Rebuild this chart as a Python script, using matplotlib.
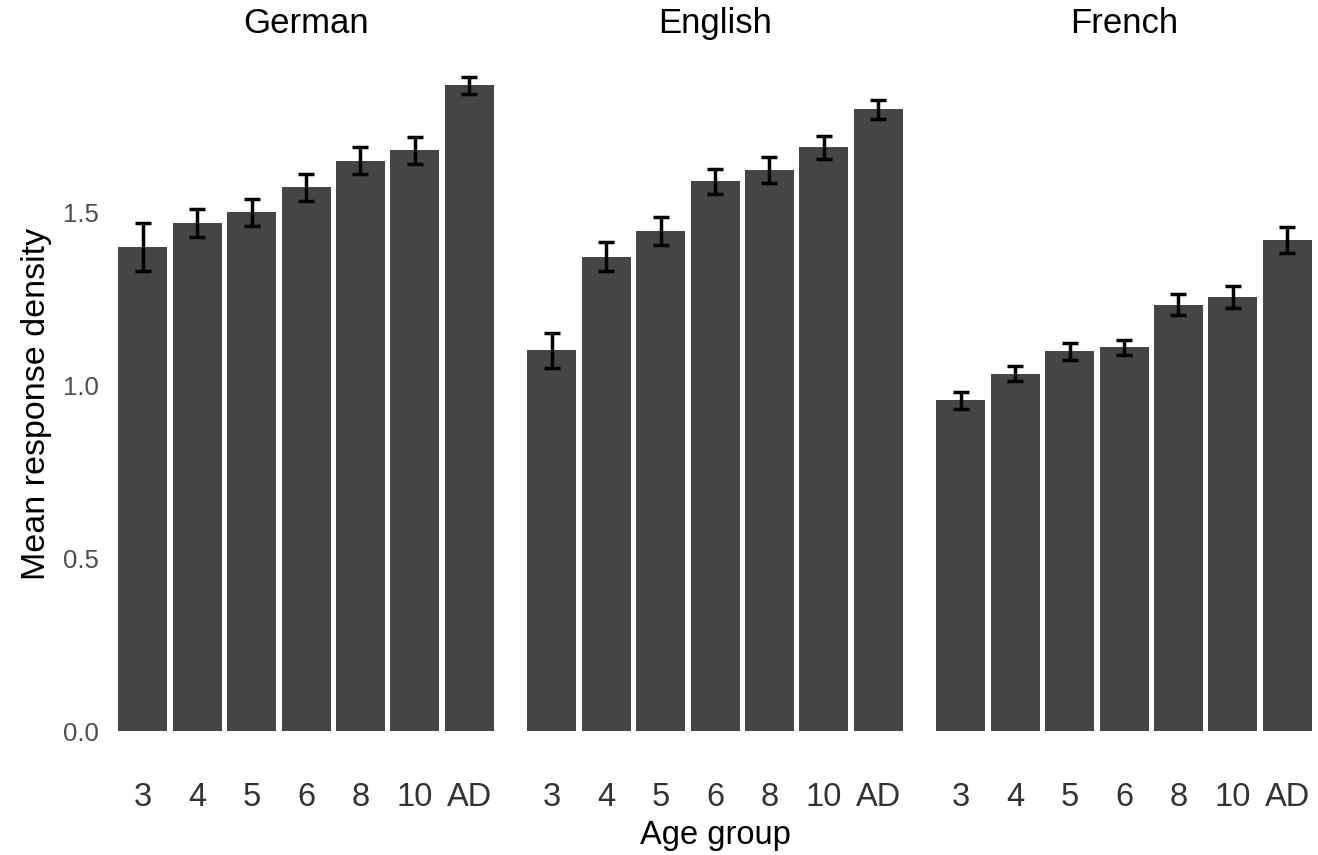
import numpy as np
import matplotlib
matplotlib.use("Agg")
import matplotlib.pyplot as plt

plt.rcParams['font.family'] = ['Liberation Sans', 'DejaVu Sans']

age_groups = ['3', '4', '5', '6', '8', '10', 'AD']
languages = ['German', 'English', 'French']

german_mean = [1.40, 1.47, 1.50, 1.572, 1.649, 1.679, 1.867]
german_err = [0.069, 0.040, 0.040, 0.039, 0.039, 0.040, 0.025]
english_mean = [1.101, 1.371, 1.446, 1.590, 1.623, 1.688, 1.798]
english_err = [0.050, 0.042, 0.040, 0.036, 0.038, 0.033, 0.028]
french_mean = [0.957, 1.034, 1.098, 1.110, 1.233, 1.255, 1.421]
french_err = [0.025, 0.022, 0.025, 0.022, 0.030, 0.031, 0.038]

means = [german_mean, english_mean, french_mean]
errs = [german_err, english_err, french_err]

W, H = 1318, 855
fig = plt.figure(figsize=(W / 100, H / 100), dpi=100)

panel_w = 392
gap = 17
left0 = 110
bottom, top = 764, 44

ymax = max(m + e for ms, es in zip(means, errs) for m, e in zip(ms, es))
ylim = (-0.05 * ymax, ymax * 1.05)

x = np.arange(len(age_groups))
for i, lang in enumerate(languages):
    l = left0 + i * (panel_w + gap)
    ax = fig.add_axes([l / W, (H - bottom) / H, panel_w / W, (bottom - top) / H])
    ax.bar(x, means[i], width=0.9, color='#454545', zorder=2)
    ax.errorbar(x, means[i], yerr=errs[i], fmt='none', ecolor='black',
                elinewidth=2.5, capsize=5.5, capthick=2.5, zorder=3)
    ax.set_xlim(-0.6, len(age_groups) - 0.4)
    ax.set_ylim(*ylim)
    ax.set_xticks(x)
    ax.set_xticklabels(age_groups, fontsize=23.5, color='#333333')
    ax.set_yticks([0.0, 0.5, 1.0, 1.5])
    if i == 0:
        ax.set_yticklabels(['0.0', '0.5', '1.0', '1.5'], fontsize=18.5, color='#4d4d4d')
        ax.set_ylabel('Mean response density', fontsize=24.5, labelpad=8)
    else:
        ax.set_yticklabels([])
    if i == 1:
        ax.set_xlabel('Age group', fontsize=23.5, labelpad=5)
    ax.tick_params(axis='both', length=0)
    ax.tick_params(axis='x', pad=13)
    ax.tick_params(axis='y', pad=8)
    for s in ax.spines.values():
        s.set_visible(False)
    ax.set_title(lang, fontsize=25, pad=8)

fig.savefig('out.png', dpi=100, facecolor='white')
